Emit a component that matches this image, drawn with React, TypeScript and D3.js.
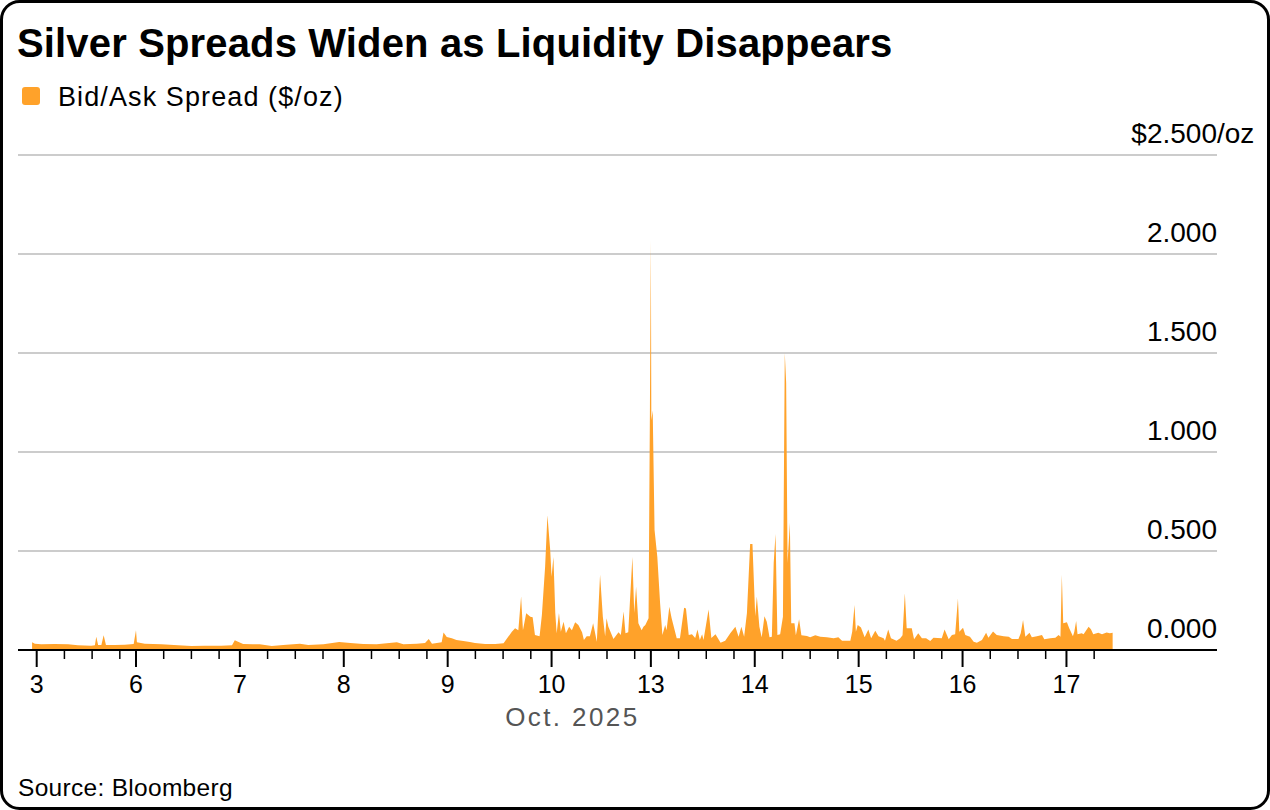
import * as d3 from 'd3';

// trading sessions shown on the axis (Oct. 2025)
const days = ['3', '6', '7', '8', '9', '10', '13', '14', '15', '16', '17'];
// length of each session on the time axis, in hours
const sessionHours = [21.5, 22.5, 22.5, 22.5, 22.5, 21.5, 22.5, 22.5, 22.5, 22.5, 22.5];
const minorHours = [6, 12, 18];
const yTicks = [0, 0.5, 1, 1.5, 2, 2.5];

// [hour into session, bid/ask spread $/oz]
const oct03 = [
  [-1.0, 0.039], [-0.4, 0.032], [1.0, 0.029], [3.9, 0.03], [6.8, 0.029], [8.9, 0.024],
  [11.8, 0.022], [12.6, 0.024], [12.9, 0.067], [13.3, 0.025], [14.0, 0.025], [14.5, 0.074],
  [15.0, 0.025], [16.9, 0.025], [19.1, 0.027], [21.0, 0.03],
];
const oct06 = [
  [0.0, 0.1], [0.2, 0.039], [1.9, 0.032], [5.5, 0.029], [9.1, 0.024], [12.0, 0.02],
  [14.9, 0.022], [18.5, 0.022], [20.8, 0.024], [21.4, 0.049], [22.1, 0.042],
];
const oct07 = [
  [0.7, 0.03], [2.8, 0.029], [4.3, 0.029], [6.9, 0.02], [9.4, 0.025], [13.0, 0.032],
  [14.8, 0.025], [18.1, 0.029], [21.5, 0.04],
];
const oct08 = [
  [1.4, 0.035], [4.2, 0.03], [7.1, 0.029], [11.5, 0.039], [12.9, 0.029], [15.8, 0.032],
  [17.6, 0.035], [18.4, 0.056], [19.1, 0.032], [21.2, 0.039], [21.6, 0.088], [22.3, 0.066],
];
const oct09 = [
  [0.9, 0.059], [1.9, 0.05], [3.4, 0.045], [4.8, 0.04], [5.9, 0.035], [8.1, 0.03],
  [10.3, 0.03], [12.1, 0.034], [13.9, 0.092], [14.6, 0.11], [15.3, 0.1], [15.9, 0.27],
  [16.3, 0.1], [17.0, 0.185], [17.9, 0.168], [18.4, 0.165], [18.9, 0.076], [19.9, 0.07],
  [20.4, 0.177], [21.1, 0.42], [21.6, 0.68], [22.2, 0.505],
];
const oct10 = [
  [0.0, 0.37], [0.4, 0.47], [0.8, 0.187], [1.1, 0.085], [1.6, 0.187], [2.0, 0.092],
  [2.6, 0.143], [3.1, 0.085], [3.8, 0.118], [4.4, 0.1], [5.1, 0.14], [5.8, 0.126],
  [6.6, 0.09], [7.0, 0.05], [7.6, 0.07], [8.3, 0.07], [9.0, 0.135], [9.8, 0.042],
  [10.5, 0.38], [11.1, 0.168], [11.6, 0.07], [11.9, 0.16], [12.3, 0.118], [13.4, 0.055],
  [14.5, 0.09], [15.0, 0.076], [15.6, 0.194], [16.0, 0.085], [16.6, 0.09], [17.5, 0.47],
  [17.9, 0.187], [18.3, 0.32], [18.8, 0.135], [19.5, 0.1], [19.9, 0.118], [20.3, 0.126],
  [21.0, 0.16], [21.3, 1.23],
];
const oct13 = [
  [0.0, 2.07], [0.1, 1.16], [0.4, 1.21], [0.8, 0.606], [1.4, 0.47], [2.0, 0.236],
  [2.5, 0.076], [3.1, 0.126], [3.4, 0.1], [4.0, 0.219], [4.5, 0.16], [5.6, 0.059],
  [6.3, 0.059], [7.2, 0.214], [7.6, 0.21], [8.2, 0.076], [8.9, 0.08], [9.6, 0.06],
  [10.1, 0.104], [10.6, 0.05], [11.1, 0.08], [11.4, 0.05], [12.5, 0.205], [13.1, 0.06],
  [14.0, 0.08], [15.1, 0.037], [16.1, 0.047], [17.2, 0.084], [18.3, 0.118], [19.0, 0.067],
  [19.6, 0.118], [20.2, 0.067], [20.8, 0.185], [21.5, 0.535], [22.0, 0.535],
];
const oct14 = [
  [0.1, 0.17], [0.45, 0.27], [1.0, 0.118], [1.5, 0.064], [2.1, 0.17], [2.6, 0.143],
  [3.2, 0.064], [3.7, 0.067], [4.1, 0.44], [4.5, 0.586], [4.9, 0.076], [5.5, 0.08],
  [6.1, 0.168], [6.5, 1.5], [6.8, 1.35], [7.1, 0.44], [7.6, 0.643], [7.9, 0.135],
  [8.6, 0.135], [8.9, 0.075], [9.6, 0.155], [10.1, 0.075], [11.3, 0.071], [12.0, 0.064],
  [13.1, 0.075], [14.2, 0.067], [15.6, 0.064], [17.1, 0.059], [18.1, 0.064], [18.9, 0.047],
  [20.7, 0.047], [21.1, 0.092], [21.6, 0.227], [21.9, 0.092], [22.3, 0.126],
];
const oct15 = [
  [0.5, 0.114], [1.3, 0.064], [2.1, 0.104], [2.7, 0.059], [3.6, 0.097], [4.3, 0.07],
  [5.4, 0.059], [5.7, 0.047], [6.4, 0.104], [7.0, 0.059], [8.2, 0.047], [9.0, 0.059],
  [9.5, 0.075], [10.0, 0.286], [10.4, 0.11], [11.5, 0.11], [12.0, 0.054], [12.9, 0.084],
  [13.7, 0.059], [14.6, 0.059], [15.5, 0.045], [16.2, 0.062], [18.0, 0.059], [18.6, 0.104],
  [19.5, 0.054], [20.2, 0.076], [20.9, 0.08], [21.5, 0.26], [21.8, 0.092],
];
const oct16 = [
  [0.1, 0.113], [0.6, 0.076], [1.6, 0.067], [2.4, 0.042], [3.1, 0.037], [4.2, 0.05],
  [5.1, 0.087], [5.6, 0.062], [6.6, 0.094], [7.4, 0.076], [8.9, 0.07], [10.0, 0.067],
  [10.7, 0.055], [12.1, 0.055], [12.6, 0.084], [13.1, 0.152], [13.6, 0.067], [14.5, 0.087],
  [15.0, 0.064], [16.1, 0.07], [17.2, 0.076], [17.7, 0.054], [19.0, 0.059], [20.1, 0.062],
  [20.8, 0.076], [21.2, 0.067], [21.5, 0.38], [21.8, 0.135],
];
const oct17 = [
  [0.1, 0.14], [0.6, 0.11], [1.4, 0.07], [1.7, 0.092], [2.1, 0.146], [2.4, 0.08],
  [3.3, 0.084], [3.7, 0.08], [4.8, 0.118], [5.3, 0.105], [5.8, 0.08], [6.9, 0.087],
  [7.7, 0.08], [8.7, 0.089], [9.4, 0.084], [10.0, 0.087],
];

const sessions = [oct03, oct06, oct07, oct08, oct09, oct10, oct13, oct14, oct15, oct16, oct17];

const FONT = '"Liberation Sans", Arial, Helvetica, sans-serif';
const ORANGE = '#ffa22a';

export default function App() {
  const W = 1270;
  const H = 810;
  const plot = { left: 18, right: 1217, top: 155, bottom: 650 };

  const starts = [0, ...Array.from(d3.cumsum(sessionHours))];
  const data = sessions.flatMap((s, i) => s.map(([h, v]) => ({ t: starts[i] + h, v })));
  const tMin = d3.min(data, d => d.t)!;
  const tMax = d3.max(data, d => d.t)!;

  const x = d3.scaleLinear().domain([-4.05, 255.6]).range([plot.left, plot.right]);
  const y = d3.scaleLinear().domain([0, 2.5]).range([plot.bottom, plot.top]);

  const area = d3.area<{ t: number; v: number }>()
    .x(d => x(d.t))
    .y0(y(0))
    .y1(d => y(d.v));

  const majors = days.map((d, i) => ({ label: d, t: starts[i] }));
  const minors = days.flatMap((_, i) => minorHours.map(h => starts[i] + h)).filter(t => t <= tMax);

  return (
    <svg width={W} height={H} style={{ position: 'absolute', left: 0, top: 0 }} fontFamily={FONT}>
      <rect x={1.5} y={1.5} width={W - 3} height={H - 3} rx={18} fill="#fff" stroke="#000" strokeWidth={3} />

      <text x={17} y={57} fontSize={40} fontWeight="bold" fill="#000" letterSpacing={0.15}>
        Silver Spreads Widen as Liquidity Disappears
      </text>

      <rect x={22} y={87} width={18} height={18} rx={3} fill={ORANGE} />
      <text x={58} y={106} fontSize={27} fill="#000" letterSpacing={1.1}>Bid/Ask Spread ($/oz)</text>

      {yTicks.map(v => (
        <g key={v}>
          {v > 0 && (
            <line x1={plot.left} x2={plot.right} y1={y(v)} y2={y(v)} stroke="#cccccc" strokeWidth={2} />
          )}
          <text x={plot.right} y={y(v) - 12} fontSize={28} textAnchor="end" fill="#000">
            {v === 2.5 ? '$' + v.toFixed(3) : v.toFixed(3)}
          </text>
          {v === 2.5 && (
            <text x={plot.right} y={y(v) - 12} fontSize={28} fill="#000">/oz</text>
          )}
        </g>
      ))}

      <path d={area(data) || ''} fill={ORANGE} />

      <line x1={plot.left} x2={plot.right} y1={y(0)} y2={y(0)} stroke="#000" strokeWidth={2} />

      {minors.map(t => (
        <line key={'m' + t} x1={x(t)} x2={x(t)} y1={y(0)} y2={y(0) + 9} stroke="#000" strokeWidth={1.5} />
      ))}
      {majors.map(m => (
        <g key={m.label}>
          <line x1={x(m.t)} x2={x(m.t)} y1={y(0)} y2={y(0) + 17} stroke="#000" strokeWidth={2} />
          <text x={x(m.t)} y={693} fontSize={25} textAnchor="middle" fill="#000">{m.label}</text>
        </g>
      ))}

      <text x={(x(tMin) + x(tMax)) / 2} y={726} fontSize={26} textAnchor="middle" fill="#555" letterSpacing={2.4}>
        Oct. 2025
      </text>

      <text x={18} y={796} fontSize={24.5} fill="#000" letterSpacing={0.3}>Source: Bloomberg</text>
    </svg>
  );
}
